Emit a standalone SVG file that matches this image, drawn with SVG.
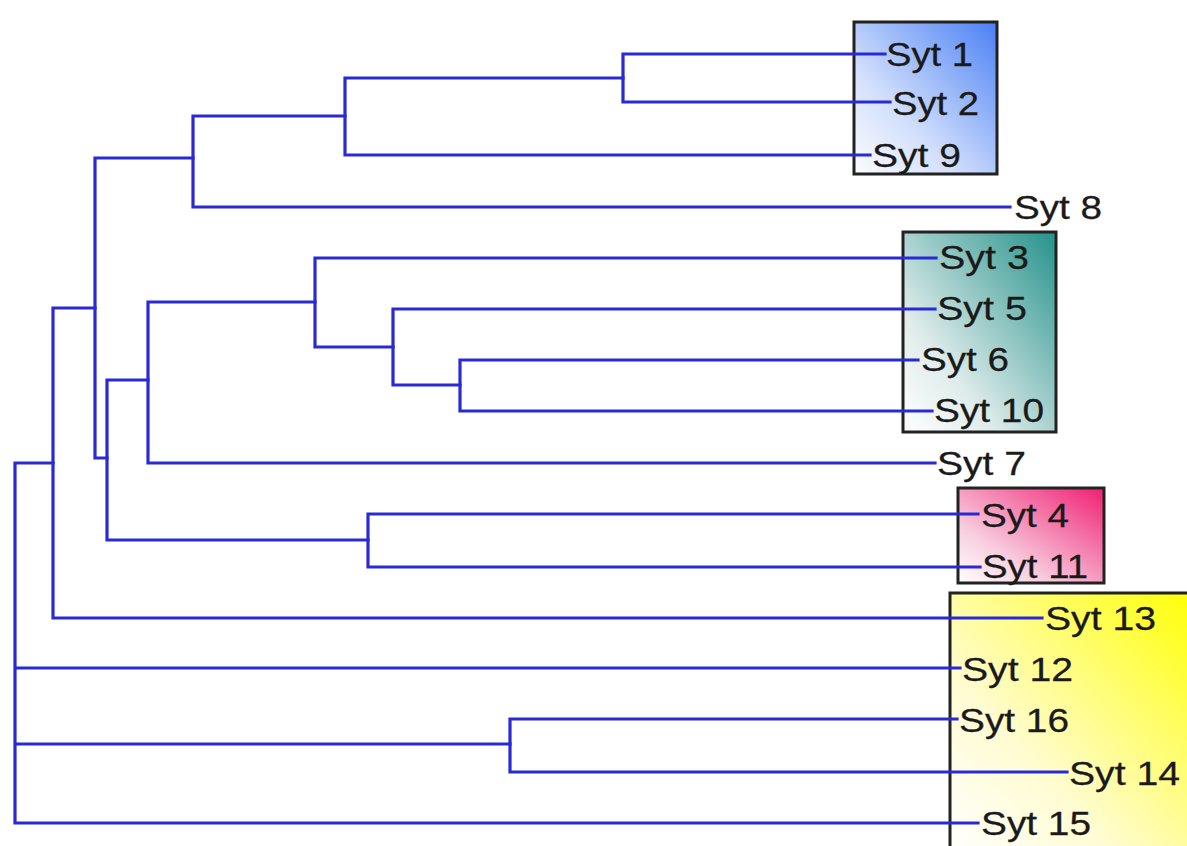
<svg xmlns="http://www.w3.org/2000/svg" width="1187" height="846" viewBox="0 0 1187 846">
  <defs>
    <linearGradient id="gBlue" x1="0" y1="1" x2="1" y2="0">
      <stop offset="0" stop-color="#fbfcff"/>
      <stop offset="0.35" stop-color="#d3e0fc"/>
      <stop offset="1" stop-color="#4a80f4"/>
    </linearGradient>
    <linearGradient id="gTeal" x1="0" y1="1" x2="1" y2="0">
      <stop offset="0" stop-color="#ffffff"/>
      <stop offset="0.3" stop-color="#dfeceb"/>
      <stop offset="1" stop-color="#24918a"/>
    </linearGradient>
    <linearGradient id="gPink" x1="0" y1="1" x2="1" y2="0">
      <stop offset="0" stop-color="#ffffff"/>
      <stop offset="0.3" stop-color="#f8cfe0"/>
      <stop offset="1" stop-color="#f01f72"/>
    </linearGradient>
    <linearGradient id="gYellow" x1="0" y1="1" x2="1" y2="0">
      <stop offset="0" stop-color="#ffffff"/>
      <stop offset="0.35" stop-color="#fffcd2"/>
      <stop offset="1" stop-color="#ffff00"/>
    </linearGradient>
  </defs>
  <style>
    .box { stroke: #222222; stroke-width: 3; }
    .edge { fill: none; stroke: #2a2ad4; stroke-width: 3.2; stroke-linecap: square; }
    .lbl { font-family: "Liberation Sans", Arial, sans-serif; font-size: 34px; fill: #1a1a1a; stroke: #1a1a1a; stroke-width: 0.3; }
  </style>

  <rect width="1187" height="846" fill="#ffffff"/>

  <!-- group boxes -->
  <g id="box-syt-1-2-9"><rect class="box" x="854" y="22" width="143" height="152" fill="url(#gBlue)"/></g>
  <g id="box-syt-3-5-6-10"><rect class="box" x="903" y="232" width="153" height="200" fill="url(#gTeal)"/></g>
  <g id="box-syt-4-11"><rect class="box" x="958" y="488" width="146" height="95" fill="url(#gPink)"/></g>
  <g id="box-syt-12-16"><rect class="box" x="950" y="593" width="250" height="270" fill="url(#gYellow)"/></g>

  <!-- tree branches -->
  <g id="connectors" class="edge">
    <!-- root -->
    <path d="M15,463 V823 M15,463 H53 M15,668 H960 M15,744 H510 M15,823 H978"/>
    <path d="M53,308 V618 M53,618 H1042 M53,308 H95"/>
    <path d="M95,158 V458 M95,458 H107 M95,158 H193"/>
    <path d="M193,116 V207 M193,207 H1010 M193,116 H345"/>
    <path d="M345,78 V155 M345,155 H870 M345,78 H623"/>
    <path d="M623,54 V102 M623,54 H885 M623,102 H890"/>
    <path d="M107,380 V540 M107,380 H148 M107,540 H368"/>
    <path d="M148,302 V463 M148,463 H935 M148,302 H315"/>
    <path d="M315,258 V347 M315,258 H936 M315,347 H393"/>
    <path d="M393,309 V385 M393,309 H935 M393,385 H460"/>
    <path d="M460,360 V411 M460,360 H918 M460,411 H932"/>
    <path d="M368,514 V567 M368,514 H978 M368,567 H980"/>
    <path d="M510,719 V772 M510,719 H957 M510,772 H1067"/>
  </g>

  <!-- leaf labels -->
  <g id="syt1"><text class="lbl" x="886" y="66" textLength="87" lengthAdjust="spacingAndGlyphs">Syt 1</text></g>
  <g id="syt2"><text class="lbl" x="892" y="115" textLength="87" lengthAdjust="spacingAndGlyphs">Syt 2</text></g>
  <g id="syt9"><text class="lbl" x="872" y="167" textLength="89" lengthAdjust="spacingAndGlyphs">Syt 9</text></g>
  <g id="syt8"><text class="lbl" x="1014" y="219" textLength="88" lengthAdjust="spacingAndGlyphs">Syt 8</text></g>
  <g id="syt3"><text class="lbl" x="939" y="269" textLength="90" lengthAdjust="spacingAndGlyphs">Syt 3</text></g>
  <g id="syt5"><text class="lbl" x="937" y="320" textLength="90" lengthAdjust="spacingAndGlyphs">Syt 5</text></g>
  <g id="syt6"><text class="lbl" x="921" y="371" textLength="88" lengthAdjust="spacingAndGlyphs">Syt 6</text></g>
  <g id="syt10"><text class="lbl" x="934" y="422" textLength="110" lengthAdjust="spacingAndGlyphs">Syt 10</text></g>
  <g id="syt7"><text class="lbl" x="937" y="475" textLength="89" lengthAdjust="spacingAndGlyphs">Syt 7</text></g>
  <g id="syt4"><text class="lbl" x="981" y="527" textLength="88" lengthAdjust="spacingAndGlyphs">Syt 4</text></g>
  <g id="syt11"><text class="lbl" x="982" y="578" textLength="106" lengthAdjust="spacingAndGlyphs">Syt 11</text></g>
  <g id="syt13"><text class="lbl" x="1045" y="630" textLength="111" lengthAdjust="spacingAndGlyphs">Syt 13</text></g>
  <g id="syt12"><text class="lbl" x="962" y="681" textLength="111" lengthAdjust="spacingAndGlyphs">Syt 12</text></g>
  <g id="syt16"><text class="lbl" x="959" y="732" textLength="110" lengthAdjust="spacingAndGlyphs">Syt 16</text></g>
  <g id="syt14"><text class="lbl" x="1069" y="785" textLength="111" lengthAdjust="spacingAndGlyphs">Syt 14</text></g>
  <g id="syt15"><text class="lbl" x="981" y="835" textLength="110" lengthAdjust="spacingAndGlyphs">Syt 15</text></g>
</svg>
